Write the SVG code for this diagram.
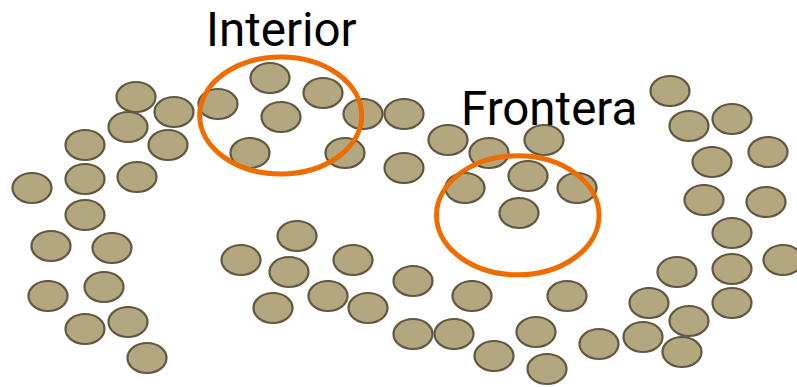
<svg xmlns="http://www.w3.org/2000/svg" width="797" height="387" viewBox="0 0 797 387">
<style>
.p{fill:#b3a77f;stroke:#625841;stroke-width:2.2}
.r{fill:none;stroke:#ef6c00;stroke-width:5}
.t{font-family:Roboto,"Liberation Sans",sans-serif;font-size:47.5px;fill:#000}
</style>
<rect width="797" height="387" fill="#fff"/>
<g id="points">
<ellipse class="p" cx="136" cy="97" rx="19.5" ry="15"/>
<ellipse class="p" cx="174" cy="112" rx="19.5" ry="15"/>
<ellipse class="p" cx="128" cy="127" rx="19.5" ry="15"/>
<ellipse class="p" cx="168" cy="145" rx="19.5" ry="15"/>
<ellipse class="p" cx="85" cy="145" rx="19.5" ry="15"/>
<ellipse class="p" cx="85" cy="179" rx="19.5" ry="15"/>
<ellipse class="p" cx="137" cy="177" rx="19.5" ry="15"/>
<ellipse class="p" cx="32" cy="188" rx="19.5" ry="15"/>
<ellipse class="p" cx="85" cy="215" rx="19.5" ry="15"/>
<ellipse class="p" cx="51" cy="246" rx="19.5" ry="15"/>
<ellipse class="p" cx="112" cy="248" rx="19.5" ry="15"/>
<ellipse class="p" cx="104" cy="287" rx="19.5" ry="15"/>
<ellipse class="p" cx="48" cy="296" rx="19.5" ry="15"/>
<ellipse class="p" cx="85" cy="329" rx="19.5" ry="15"/>
<ellipse class="p" cx="128" cy="322" rx="19.5" ry="15"/>
<ellipse class="p" cx="147" cy="358" rx="19.5" ry="15"/>
<ellipse class="p" cx="218" cy="104" rx="19.5" ry="15"/>
<ellipse class="p" cx="270" cy="78" rx="19.5" ry="15"/>
<ellipse class="p" cx="323" cy="93" rx="19.5" ry="15"/>
<ellipse class="p" cx="281" cy="117" rx="19.5" ry="15"/>
<ellipse class="p" cx="250" cy="153" rx="19.5" ry="15"/>
<ellipse class="p" cx="363" cy="114" rx="19.5" ry="15"/>
<ellipse class="p" cx="345" cy="153" rx="19.5" ry="15"/>
<ellipse class="p" cx="404" cy="114" rx="19.5" ry="15"/>
<ellipse class="p" cx="404" cy="168" rx="19.5" ry="15"/>
<ellipse class="p" cx="448" cy="140" rx="19.5" ry="15"/>
<ellipse class="p" cx="489" cy="153" rx="19.5" ry="15"/>
<ellipse class="p" cx="544" cy="140" rx="19.5" ry="15"/>
<ellipse class="p" cx="528" cy="176" rx="19.5" ry="15"/>
<ellipse class="p" cx="465" cy="188" rx="19.5" ry="15"/>
<ellipse class="p" cx="577" cy="188" rx="19.5" ry="15"/>
<ellipse class="p" cx="519" cy="213" rx="19.5" ry="15"/>
<ellipse class="p" cx="297" cy="236" rx="19.5" ry="15"/>
<ellipse class="p" cx="241" cy="260" rx="19.5" ry="15"/>
<ellipse class="p" cx="353" cy="260" rx="19.5" ry="15"/>
<ellipse class="p" cx="289" cy="272" rx="19.5" ry="15"/>
<ellipse class="p" cx="413" cy="281" rx="19.5" ry="15"/>
<ellipse class="p" cx="328" cy="296" rx="19.5" ry="15"/>
<ellipse class="p" cx="368" cy="308" rx="19.5" ry="15"/>
<ellipse class="p" cx="273" cy="308" rx="19.5" ry="15"/>
<ellipse class="p" cx="413" cy="334" rx="19.5" ry="15"/>
<ellipse class="p" cx="454" cy="334" rx="19.5" ry="15"/>
<ellipse class="p" cx="472" cy="296" rx="19.5" ry="15"/>
<ellipse class="p" cx="567" cy="296" rx="19.5" ry="15"/>
<ellipse class="p" cx="536" cy="332" rx="19.5" ry="15"/>
<ellipse class="p" cx="494" cy="356" rx="19.5" ry="15"/>
<ellipse class="p" cx="547" cy="369" rx="19.5" ry="15"/>
<ellipse class="p" cx="599" cy="344" rx="19.5" ry="15"/>
<ellipse class="p" cx="670" cy="91" rx="19.5" ry="15"/>
<ellipse class="p" cx="689" cy="126" rx="19.5" ry="15"/>
<ellipse class="p" cx="732" cy="119" rx="19.5" ry="15"/>
<ellipse class="p" cx="768" cy="152" rx="19.5" ry="15"/>
<ellipse class="p" cx="712" cy="162" rx="19.5" ry="15"/>
<ellipse class="p" cx="704" cy="200" rx="19.5" ry="15"/>
<ellipse class="p" cx="766" cy="202" rx="19.5" ry="15"/>
<ellipse class="p" cx="732" cy="233" rx="19.5" ry="15"/>
<ellipse class="p" cx="783" cy="260" rx="19.5" ry="15"/>
<ellipse class="p" cx="732" cy="269" rx="19.5" ry="15"/>
<ellipse class="p" cx="677" cy="272" rx="19.5" ry="15"/>
<ellipse class="p" cx="732" cy="303" rx="19.5" ry="15"/>
<ellipse class="p" cx="649" cy="303" rx="19.5" ry="15"/>
<ellipse class="p" cx="689" cy="321" rx="19.5" ry="15"/>
<ellipse class="p" cx="643" cy="337" rx="19.5" ry="15"/>
<ellipse class="p" cx="682" cy="352" rx="19.5" ry="15"/>
</g>
<g id="interior">
<ellipse class="r" cx="280.7" cy="115.5" rx="81" ry="58.5"/>
<text class="t" x="206" y="45.5">Interior</text>
</g>
<g id="frontera">
<ellipse class="r" cx="517.8" cy="215.3" rx="81.3" ry="59.5"/>
<text class="t" x="461" y="125">Frontera</text>
</g>
</svg>
